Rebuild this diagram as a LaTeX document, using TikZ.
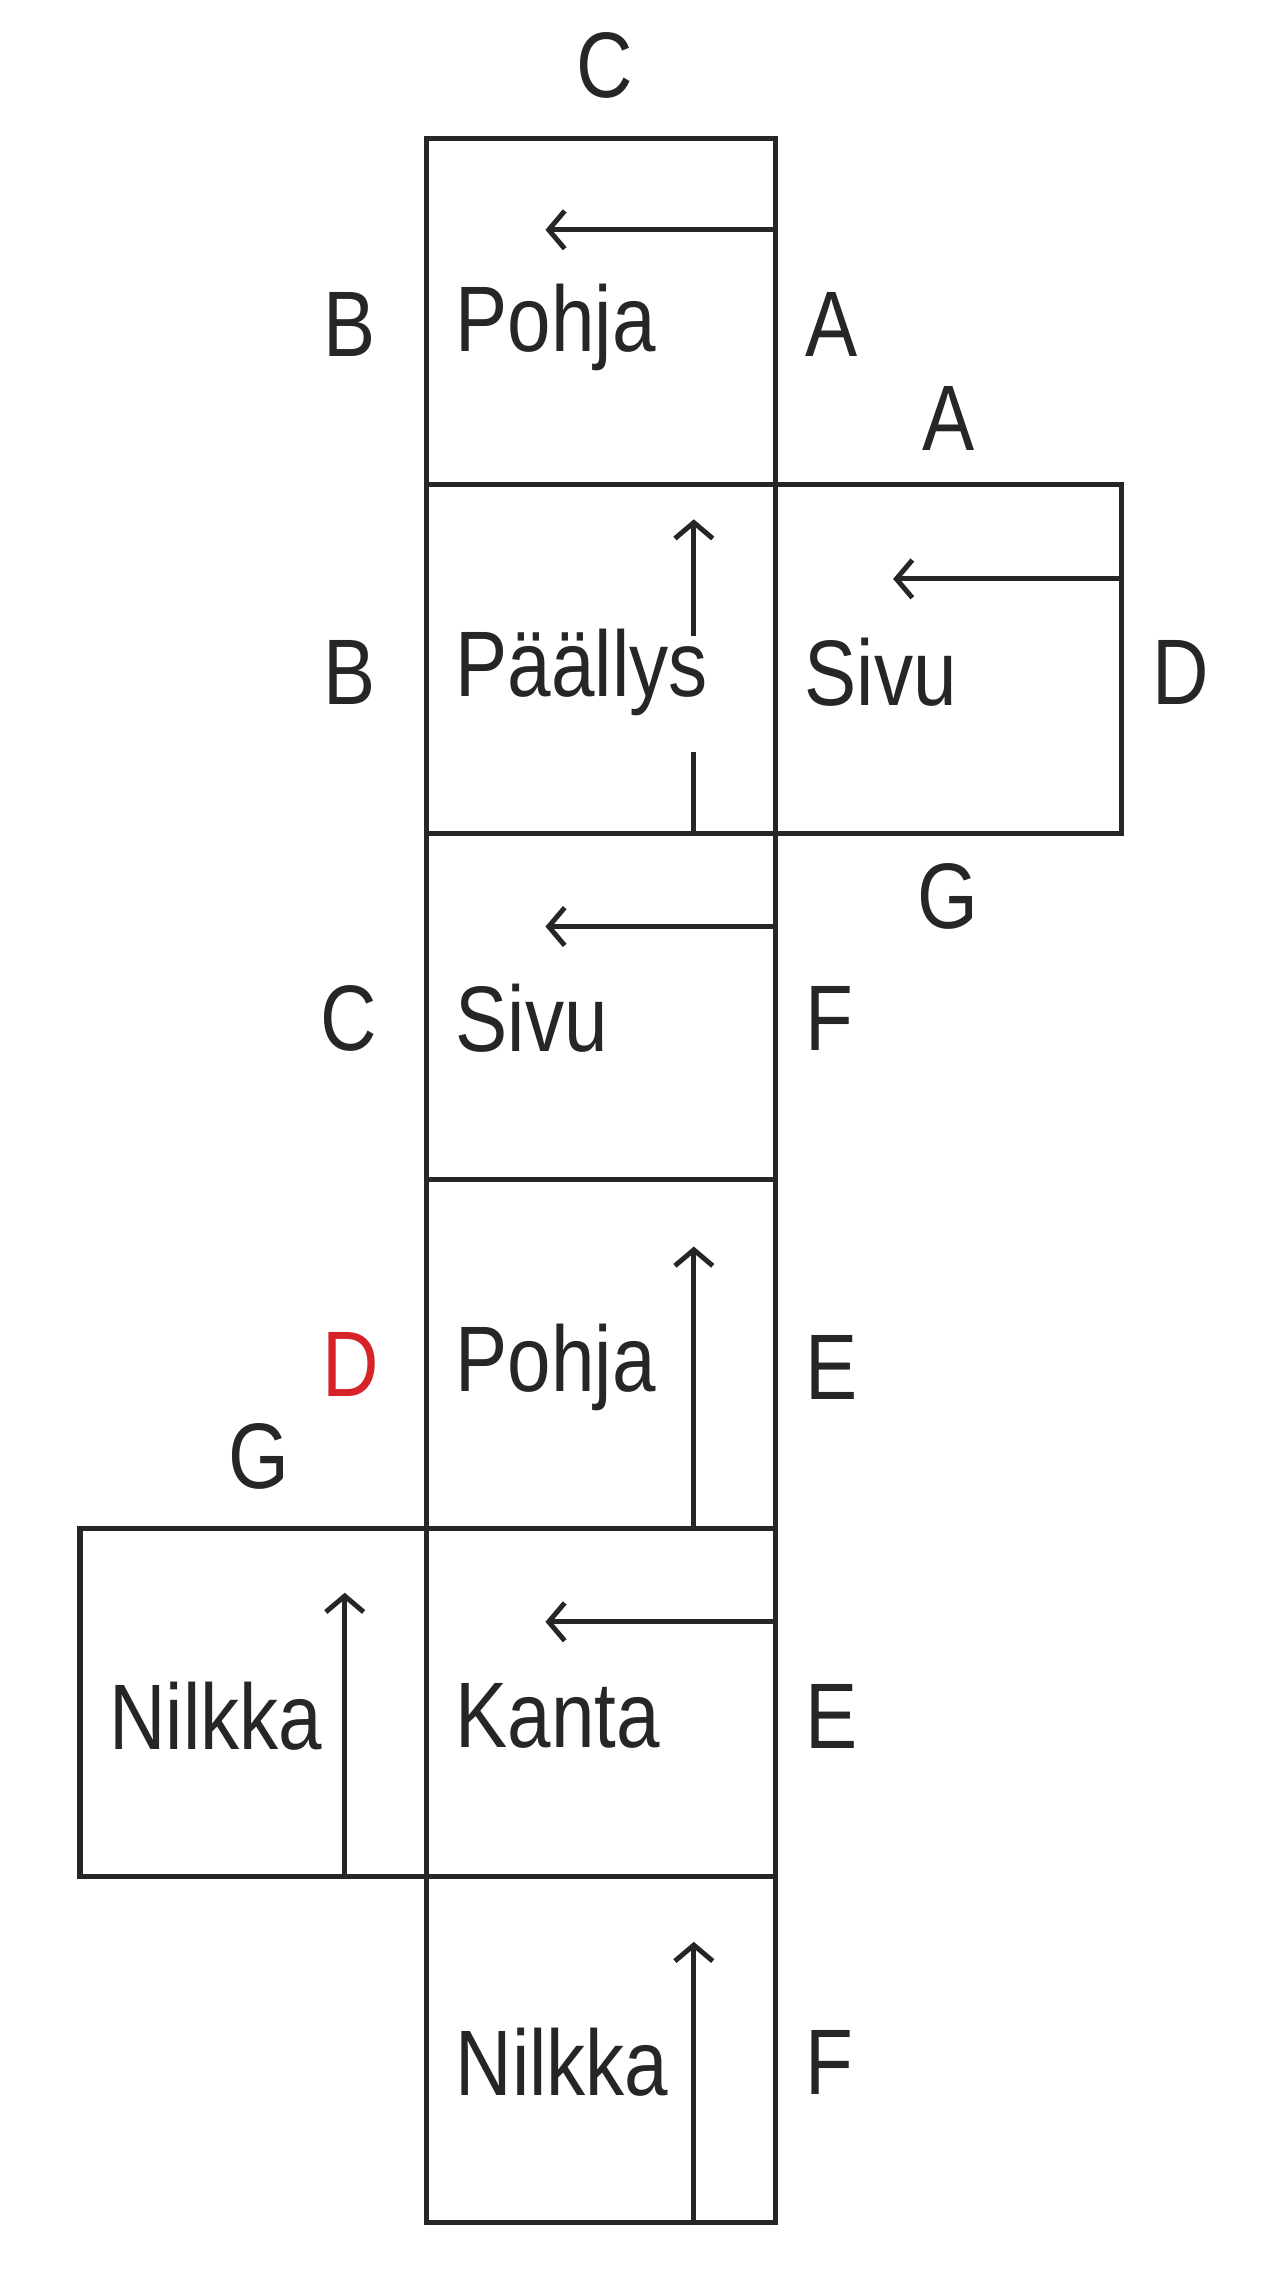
\documentclass[tikz,border=0pt]{standalone}
\usepackage{fontspec}
\setmainfont{Liberation Sans}
\usetikzlibrary{arrows.meta}
\newcommand{\cnd}[1]{\scalebox{0.84}[1]{#1}}
\begin{document}
\begin{tikzpicture}[x=1pt,y=-1pt,
  box/.style={draw=black!85,line width=3.6pt},
  arr/.style={draw=black!85,line width=3.4pt,-{Straight Barb[length=11pt,width=26pt,line width=3.4pt]}},
  ln/.style={draw=black!85,line width=3.4pt},
  lab/.style={font=\fontsize{64}{64}\selectfont,text=black!85,inner sep=0pt},
  txt/.style={lab,anchor=west}]
\useasboundingbox (0,0) rectangle (880,1562);
\draw[box] (293,95) rectangle (533,1528);
\foreach \y in {333,573,811,1051,1290} \draw[box] (293,\y) -- (533,\y);
\draw[box] (533,333) rectangle (771,573);
\draw[box] (55,1051) rectangle (293,1290);
% arrows
\coordinate (a1s) at (533,158); \coordinate (a1e) at (375,158);
\draw[arr] (a1s) -- (a1e);
\coordinate (a2s) at (477,573); \coordinate (a2m) at (477,517);
\coordinate (a2n) at (477,437); \coordinate (a2e) at (477,357);
\draw[ln] (a2s) -- (a2m); \draw[arr] (a2n) -- (a2e);
\coordinate (a3s) at (771,398); \coordinate (a3e) at (614,398);
\draw[arr] (a3s) -- (a3e);
\coordinate (a4s) at (533,637); \coordinate (a4e) at (375,637);
\draw[arr] (a4s) -- (a4e);
\coordinate (a5s) at (477,1051); \coordinate (a5e) at (477,857);
\draw[arr] (a5s) -- (a5e);
\coordinate (a6s) at (533,1115); \coordinate (a6e) at (375,1115);
\draw[arr] (a6s) -- (a6e);
\coordinate (a7s) at (237,1290); \coordinate (a7e) at (237,1095);
\draw[arr] (a7s) -- (a7e);
\coordinate (a8s) at (477,1528); \coordinate (a8e) at (477,1335);
\draw[arr] (a8s) -- (a8e);
% texts
\node[txt] (t1) at (313,225) {\cnd{Pohja}};
\node[txt] (t2) at (313,462) {\cnd{Päällys}};
\node[txt] (t3) at (553,462) {\cnd{Sivu}};
\node[txt] (t4) at (313,700) {\cnd{Sivu}};
\node[txt] (t5) at (313,940) {\cnd{Pohja}};
\node[txt] (t6) at (75,1180) {\cnd{Nilkka}};
\node[txt] (t7) at (313,1180) {\cnd{Kanta}};
\node[txt] (t8) at (313,1418) {\cnd{Nilkka}};
% edge labels
\node[lab] (l1) at (416,45) {\cnd{C}};
\node[lab] (l2) at (240,223) {\cnd{B}};
\node[lab] (l3) at (572,223) {\cnd{A}};
\node[lab] (l4) at (652,288) {\cnd{A}};
\node[lab] (l5) at (240,462) {\cnd{B}};
\node[lab] (l6) at (812,462) {\cnd{D}};
\node[lab] (l7) at (652,616) {\cnd{G}};
\node[lab] (l8) at (240,700) {\cnd{C}};
\node[lab] (l9) at (570,700) {\cnd{F}};
\node[lab,text={rgb,255:red,215;green,35;blue,40}] (l10) at (241,938) {\cnd{D}};
\node[lab] (l11) at (572,940) {\cnd{E}};
\node[lab] (l12) at (178,1001) {\cnd{G}};
\node[lab] (l13) at (572,1180) {\cnd{E}};
\node[lab] (l14) at (570,1418) {\cnd{F}};
\end{tikzpicture}
\end{document}
